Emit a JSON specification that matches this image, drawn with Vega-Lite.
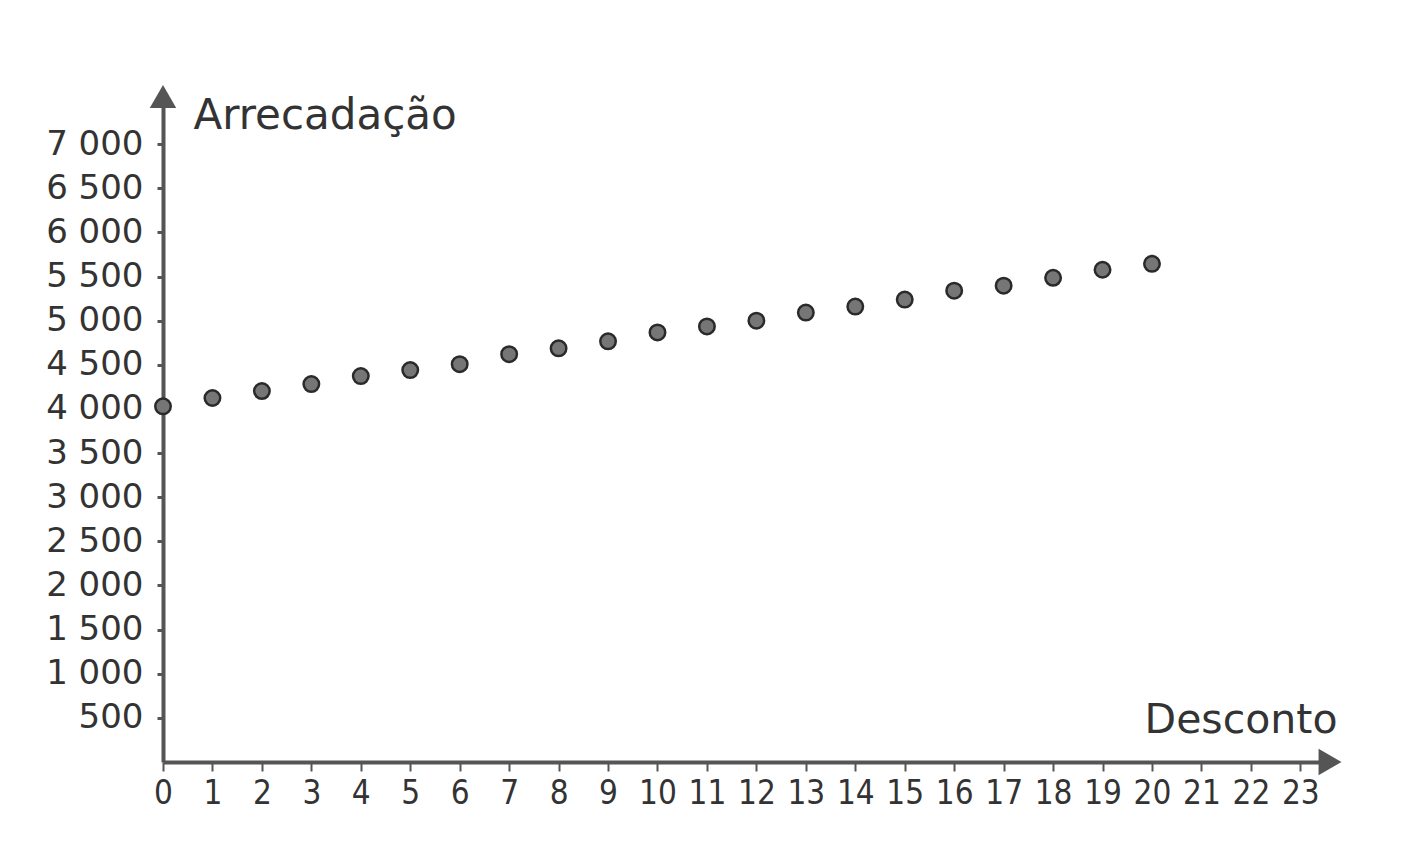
{
  "$schema": "https://vega.github.io/schema/vega-lite/v6.json",
  "autosize": "none",
  "width": 1167,
  "height": 662,
  "padding": {"left": 163, "top": 100, "right": 78, "bottom": 106},
  "background": "white",
  "config": {
    "view": {"stroke": null},
    "font": "DejaVu Sans"
  },
  "datasets": {
    "pontos": [
      {"desconto": 0, "arrecadacao": 4030},
      {"desconto": 1, "arrecadacao": 4124},
      {"desconto": 2, "arrecadacao": 4203},
      {"desconto": 3, "arrecadacao": 4282},
      {"desconto": 4, "arrecadacao": 4372},
      {"desconto": 5, "arrecadacao": 4440},
      {"desconto": 6, "arrecadacao": 4507},
      {"desconto": 7, "arrecadacao": 4620},
      {"desconto": 8, "arrecadacao": 4687},
      {"desconto": 9, "arrecadacao": 4766},
      {"desconto": 10, "arrecadacao": 4867},
      {"desconto": 11, "arrecadacao": 4935},
      {"desconto": 12, "arrecadacao": 5000},
      {"desconto": 13, "arrecadacao": 5092},
      {"desconto": 14, "arrecadacao": 5160},
      {"desconto": 15, "arrecadacao": 5239},
      {"desconto": 16, "arrecadacao": 5340},
      {"desconto": 17, "arrecadacao": 5396},
      {"desconto": 18, "arrecadacao": 5486},
      {"desconto": 19, "arrecadacao": 5577},
      {"desconto": 20, "arrecadacao": 5644}
    ],
    "setas": [
      {"desconto": 0, "arrecadacao": 7540, "forma": "triangle-up"},
      {"desconto": 23.6, "arrecadacao": 0, "forma": "triangle-right"}
    ]
  },
  "layer": [
    {
      "data": {"name": "pontos"},
      "mark": {"type": "point", "filled": true, "size": 240, "fill": "#767676", "stroke": "#2a2a2a", "strokeWidth": 2.5, "opacity": 1, "clip": false},
      "encoding": {
        "x": {
          "field": "desconto", "type": "quantitative",
          "scale": {"domain": [0, 23.6], "nice": false},
          "axis": {
            "values": [0,1,2,3,4,5,6,7,8,9,10,11,12,13,14,15,16,17,18,19,20,21,22,23],
            "grid": false,
            "domainColor": "#555555", "domainWidth": 4,
            "tickColor": "#555555", "tickWidth": 2, "tickSize": 9,
            "labelFont": "DejaVu Sans Condensed, Liberation Sans",
            "labelFontSize": 33, "labelColor": "#333333", "labelPadding": 6,
            "labelOverlap": false, "labelFlush": false,
            "title": "Desconto",
            "titleFontSize": 41, "titleFontWeight": "normal", "titleColor": "#333333",
            "titleAnchor": null, "titleAlign": "right", "titleBaseline": "alphabetic",
            "titleX": 1174, "titleY": -30
          }
        },
        "y": {
          "field": "arrecadacao", "type": "quantitative",
          "scale": {"domain": [0, 7500], "nice": false},
          "axis": {
            "values": [500,1000,1500,2000,2500,3000,3500,4000,4500,5000,5500,6000,6500,7000],
            "labelExpr": "replace(format(datum.value, ','), ',', ' ')",
            "grid": false,
            "domainColor": "#555555", "domainWidth": 4,
            "tickColor": "#555555", "tickWidth": 3, "tickSize": 6,
            "labelFontSize": 34, "labelColor": "#333333", "labelPadding": 14,
            "labelOverlap": false, "labelFlush": false,
            "title": "Arrecadação",
            "titleFontSize": 42, "titleFontWeight": "normal", "titleColor": "#333333",
            "titleAngle": 0, "titleAnchor": null, "titleAlign": "left", "titleBaseline": "alphabetic",
            "titleX": 30, "titleY": 28
          }
        }
      }
    },
    {
      "data": {"name": "setas"},
      "mark": {"type": "point", "filled": true, "size": 700, "color": "#555555", "opacity": 1, "clip": false},
      "encoding": {
        "x": {"field": "desconto", "type": "quantitative"},
        "y": {"field": "arrecadacao", "type": "quantitative"},
        "shape": {"field": "forma", "type": "nominal", "scale": null}
      }
    }
  ]
}
